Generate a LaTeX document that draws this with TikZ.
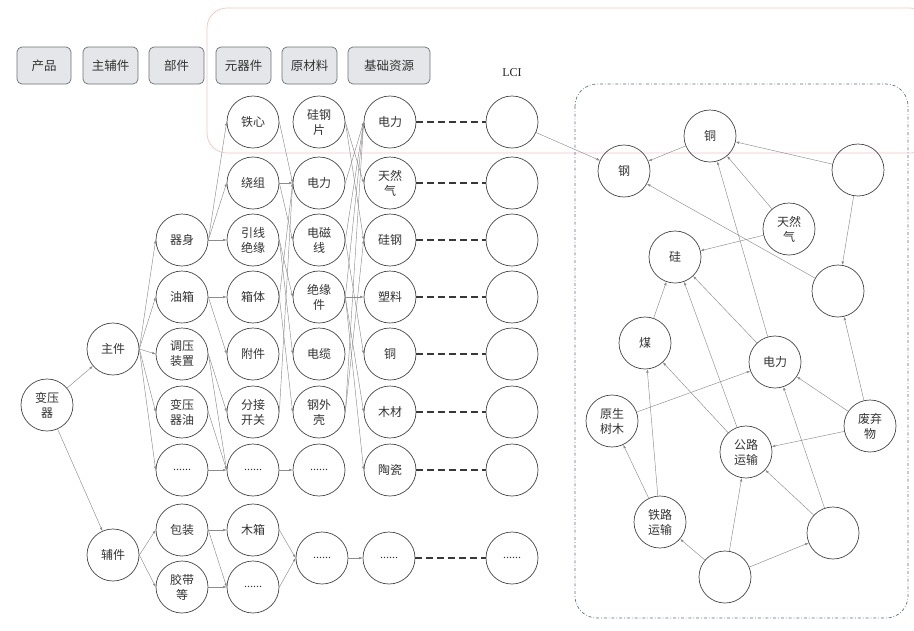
\documentclass[tikz,border=0pt]{standalone}
\usepackage{fontspec}
\setmainfont{Liberation Serif}
\newfontfamily\cjk{Noto Sans CJK SC}
\usetikzlibrary{arrows.meta}
\definecolor{hdrfill}{HTML}{E4E6EA}
\definecolor{hdrline}{HTML}{6B7078}
\definecolor{pinkline}{HTML}{F2C4C4}
\definecolor{blueline}{HTML}{5B6E8C}
\definecolor{edgegray}{HTML}{8C8C8C}
\begin{document}
\begin{tikzpicture}[x=1pt,y=-1pt,
  cir/.style={circle,draw=black!72,line width=0.7pt,minimum size=52pt,inner sep=0pt,align=center,
    font=\cjk\fontsize{12}{15}\selectfont,text=black!80},
  hdr/.style={rounded corners=5pt,draw=hdrline,fill=hdrfill,line width=0.7pt,minimum height=37pt,
    inner sep=0pt,font=\cjk\fontsize{12.5}{15}\selectfont,text=black!80},
  arr/.style={draw=edgegray,line width=0.45pt,-{Latex[length=3.5pt,width=2.6pt]}},
  dsh/.style={draw=black!78,line width=1.3pt,dash pattern=on 7pt off 4pt},
  dots/.style={font=\fontsize{12}{14}\selectfont}]
\useasboundingbox (0,0) rectangle (914,630);
% background frames
\draw[pinkline,line width=0.7pt,rounded corners=20pt] (207,8) rectangle (930,153);
\draw[blueline,line width=0.7pt,dash dot,rounded corners=22pt] (575,84) rectangle (908,618);
% headers
\node[hdr,minimum width=54pt] (h1) at (44,65.5) {产品};
\node[hdr,minimum width=55pt] (h2) at (110.5,65.5) {主辅件};
\node[hdr,minimum width=55pt] (h3) at (176.5,65.5) {部件};
\node[hdr,minimum width=55pt] (h4) at (243.5,65.5) {元器件};
\node[hdr,minimum width=55pt] (h5) at (309.5,65.5) {原材料};
\node[hdr,minimum width=82pt] (h6) at (389,65.5) {基础资源};
\node[font=\fontsize{12}{14}\selectfont,text=black!85] (lci) at (512,73) {LCI};
% column 0/1
\node[cir] (a0) at (47,405) {变压\\器};
\node[cir] (b1) at (113,349) {主件};
\node[cir] (b2) at (113,555) {辅件};
% column 2
\node[cir] (c1) at (182,240) {器身};
\node[cir] (c2) at (182,297) {油箱};
\node[cir] (c3) at (182,354) {调压\\装置};
\node[cir] (c4) at (182,412) {变压\\器油};
\node[cir,dots] (c5) at (182,470) {......};
\node[cir] (c6) at (182,530) {包装};
\node[cir] (c7) at (182,587) {胶带\\等};
% column 3
\node[cir] (d1) at (253,122) {铁心};
\node[cir] (d2) at (253,183) {绕组};
\node[cir] (d3) at (253,240) {引线\\绝缘};
\node[cir] (d4) at (253,297) {箱体};
\node[cir] (d5) at (253,354) {附件};
\node[cir] (d6) at (253,412) {分接\\开关};
\node[cir,dots] (d7) at (253,470) {......};
\node[cir] (d8) at (253,530) {木箱};
\node[cir,dots] (d9) at (253,587) {......};
% column 4
\node[cir] (e1) at (319,122) {硅钢\\片};
\node[cir] (e2) at (319,183) {电力};
\node[cir] (e3) at (319,240) {电磁\\线};
\node[cir] (e4) at (319,297) {绝缘\\件};
\node[cir] (e5) at (319,354) {电缆};
\node[cir] (e6) at (319,412) {钢外\\壳};
\node[cir,dots] (e7) at (319,470) {......};
\node[cir,dots] (e8) at (322,558) {......};
% column 5
\node[cir] (f1) at (390,122) {电力};
\node[cir] (f2) at (390,183) {天然\\气};
\node[cir] (f3) at (390,240) {硅钢};
\node[cir] (f4) at (390,297) {塑料};
\node[cir] (f5) at (390,354) {铜};
\node[cir] (f6) at (390,412) {木材};
\node[cir] (f7) at (390,470) {陶瓷};
\node[cir,dots] (f8) at (389,558) {......};
% column 6 (LCI)
\node[cir] (g1) at (512,122) {};
\node[cir] (g2) at (512,183) {};
\node[cir] (g3) at (512,240) {};
\node[cir] (g4) at (512,297) {};
\node[cir] (g5) at (512,354) {};
\node[cir] (g6) at (512,412) {};
\node[cir] (g7) at (512,470) {};
\node[cir,dots] (g8) at (512,558) {......};
% right cluster
\node[cir] (rgang) at (624,171) {钢};
\node[cir] (rtong) at (710,136) {铜};
\node[cir] (rtr) at (858,170) {};
\node[cir] (rtrq) at (789,229) {天然\\气};
\node[cir] (rgui) at (675,257) {硅};
\node[cir] (rr2) at (838,291) {};
\node[cir] (rmei) at (645,343) {煤};
\node[cir] (rdl) at (775,362) {电力};
\node[cir] (rysm) at (612,421) {原生\\树木};
\node[cir] (rfqw) at (870,426) {废弃\\物};
\node[cir] (rgl) at (746,452) {公路\\运输};
\node[cir] (rtl) at (660,522) {铁路\\运输};
\node[cir] (rbr) at (833,533) {};
\node[cir] (rb) at (725,577) {};
% left tree edges
\draw[arr] (a0) -- (b1);
\draw[arr] (a0) -- (b2);
\foreach \t in {c1,c2,c3,c4,c5} \draw[arr] (b1.east) -- (\t.west);
\foreach \t in {c6,c7} \draw[arr] (b2.east) -- (\t.west);
\foreach \t in {d1,d2,d3} \draw[arr] (c1.east) -- (\t.west);
\draw[arr] (c2.east) -- (d4.west);
\draw[arr] (c2.east) -- (d5.west);
\draw[arr] (c3.east) -- (d6.west);
\draw[arr] (c3.east) -- (d7.west);
\draw[arr] (c4.east) -- (d7.west);
\draw[arr] (c5.east) -- (d7.west);
\draw[arr] (c6.east) -- (d8.west);
\draw[arr] (c6.east) -- (d9.west);
\draw[arr] (c7.east) -- (d9.west);
% column 3 -> 4
\draw[arr] (d1.east) -- (e2.west);
\draw[arr] (d2.east) -- (e2.west);
\draw[arr] (d2.east) -- (e3.west);
\draw[arr] (d3.east) -- (e4.west);
\draw[arr] (d3.east) -- (e5.west);
\draw[arr] (d4.east) -- (e6.west);
\draw[arr] (d4.east) -- (e2.west);
\draw[arr] (d6.east) -- (e2.west);
\draw[arr] (d7.east) -- (e7.west);
\draw[arr] (d8.east) -- (e8.west);
\draw[arr] (d9.east) -- (e8.west);
% column 4 -> 5
\draw[arr] (e1.east) -- (f2.west);
\draw[arr] (e1.east) -- (f3.west);
\draw[arr] (e2.east) -- (f1.west);
\draw[arr] (e3.east) -- (f1.west);
\draw[arr] (e3.east) -- (f5.west);
\draw[arr] (e4.east) -- (f4.west);
\draw[arr] (e4.east) -- (f6.west);
\draw[arr] (e4.east) -- (f7.west);
\draw[arr] (e4.east) -- (f1.west);
\draw[arr] (e6.east) -- (f3.west);
\draw[arr] (e6.east) -- (f1.west);
\draw[arr] (e8.east) -- (f8.west);
% dashed links to LCI
\foreach \i in {1,...,8} \draw[dsh] (f\i.east) -- (g\i.west);
% right cluster edges
\draw[arr] (g1) -- (rgang);
\draw[arr] (rtong) -- (rgang);
\draw[arr] (rtr) -- (rtong);
\draw[arr] (rtrq) -- (rtong);
\draw[arr] (rdl) -- (rtong);
\draw[arr] (rtr) -- (rr2);
\draw[arr] (rr2) -- (rgang);
\draw[arr] (rtrq) -- (rgui);
\draw[arr] (rdl) -- (rgui);
\draw[arr] (rmei) -- (rgui);
\draw[arr] (rgl) -- (rgui);
\draw[arr] (rfqw) -- (rr2);
\draw[arr] (rfqw) -- (rdl);
\draw[arr] (rfqw) -- (rgl);
\draw[arr] (rysm) -- (rdl);
\draw[arr] (rgl) -- (rmei);
\draw[arr] (rtl) -- (rmei);
\draw[arr] (rtl) -- (rysm);
\draw[arr] (rb) -- (rtl);
\draw[arr] (rb) -- (rgl);
\draw[arr] (rb) -- (rbr);
\draw[arr] (rbr) -- (rgl);
\draw[arr] (rbr) -- (rdl);
\end{tikzpicture}
\end{document}
